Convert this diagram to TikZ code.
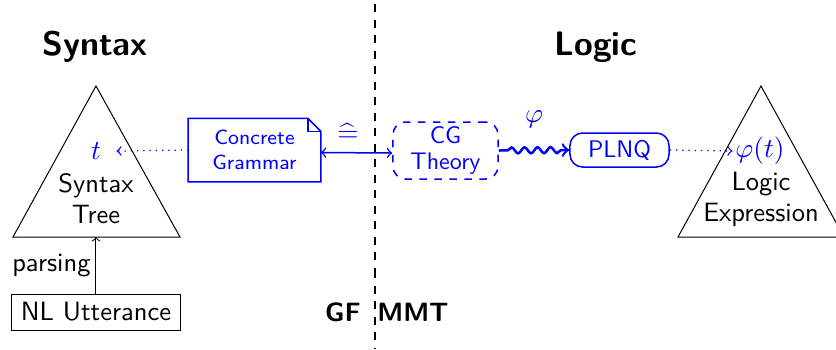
\documentclass[tikz,border=0pt]{standalone}
\usetikzlibrary{decorations.pathmorphing}
\renewcommand{\familydefault}{\sfdefault}
\begin{document}
\begin{tikzpicture}[x=0.4pt,y=-0.4pt,
  font=\fontsize{10.6}{12.4}\selectfont,
  bl/.style={blue},
  blbox/.style={blue,draw=blue,line width=0.6pt,align=center,inner sep=0pt},
  tri/.style={draw,line width=0.4pt},
  heading/.style={font=\fontsize{13.6}{16}\selectfont\bfseries},
  inner/.style={align=center,inner sep=0pt},
  sep/.style={draw,line width=0.9pt,dash pattern=on 3.2pt off 3pt}]
\useasboundingbox (0,0) rectangle (836,349);
\node[font=\fontsize{10.6}{12.4}\selectfont\bfseries,inner sep=1pt] (gf) at (343,312) {GF};
\node[font=\fontsize{10.6}{12.4}\selectfont\bfseries,inner sep=1pt] (mmt) at (413,312) {MMT};
% headings
\node[heading] (hsyn) at (95,47) {Syntax};
\node[heading] (hlog) at (596,47) {Logic};
% left triangle
\coordinate (lta) at (96,86);
\coordinate (ltl) at (13,237);
\coordinate (ltr) at (180,237);
\coordinate (ltb) at (96,237);
\draw[tri] (lta) -- (ltl) -- (ltr) -- cycle;
\node[bl,inner] (t) at (96,151) {$t$};
\node[inner] (st) at (96,199) {Syntax\\Tree};
% right triangle
\coordinate (rta) at (761,86);
\coordinate (rtl) at (678,237);
\coordinate (rtr) at (844,237);
\draw[tri] (rta) -- (rtl) -- (rtr) -- cycle;
\node[bl,inner] (pt) at (760,151) {$\varphi(t)$};
\node[inner] (le) at (761,199) {Logic\\Expression};
% NL utterance
\node[draw,line width=0.4pt,minimum width=67.2pt,minimum height=14.4pt,inner sep=0pt] (nl) at (96,312) {NL Utterance};
\draw[->,line width=0.4pt] (nl.north) -- node[left,inner sep=2pt] {parsing} (ltb);
% concrete grammar (note)
\node[blbox,draw=none,minimum width=52.4pt,minimum height=24.8pt,font=\fontsize{8.2}{10}\selectfont] (cg) at (254.5,150) {Concrete\\Grammar};
\draw[blue,line width=0.6pt] (cg.south west) -- (cg.north west) -- ([xshift=-5.2pt]cg.north east) -- ([yshift=-5.2pt]cg.north east) -- (cg.south east) -- cycle;
\draw[blue,line width=0.6pt] ([xshift=-5.2pt]cg.north east) -- ([xshift=-5.2pt,yshift=-5.2pt]cg.north east) -- ([yshift=-5.2pt]cg.north east);
\draw[blue,->,dotted,line width=0.5pt] (cg.west) -- ([xshift=6pt]t.east);
% CG theory
\node[blbox,dashed,rounded corners=5pt,minimum width=42pt,minimum height=22.8pt,font=\fontsize{9.6}{10.6}\selectfont] (cgt) at (445.5,150.5) {CG\\Theory};
\draw[blue,<->,line width=0.6pt] ([yshift=-1pt]cg.east) -- node[above=4pt,pos=0.38,inner sep=0pt] (eq) {$\widehat{=}$} ([yshift=-1pt]cgt.west);
% PLNQ
\node[blbox,rounded corners=5pt,minimum width=39.6pt,minimum height=13.6pt,font=\fontsize{9.6}{11}\selectfont] (plnq) at (619.5,150) {PLNQ};
\draw[blue,->,line width=1pt,decorate,decoration={snake,amplitude=1.2pt,segment length=5.2pt,pre length=3.5pt,post length=3pt}] (cgt.east) -- node[above=5pt] (phi) {$\varphi$} (plnq.west);
\draw[blue,->,dotted,line width=0.5pt] (plnq.east) -- ([xshift=-1pt]pt.west);
% separator
\coordinate (septop) at (375,4);
\coordinate (sepmid) at (375,270);
\coordinate (sepbot) at (375,349);
\draw[sep] (septop) -- (sepmid);
\draw[sep] (sepmid) -- (sepbot);
\end{tikzpicture}
\end{document}
